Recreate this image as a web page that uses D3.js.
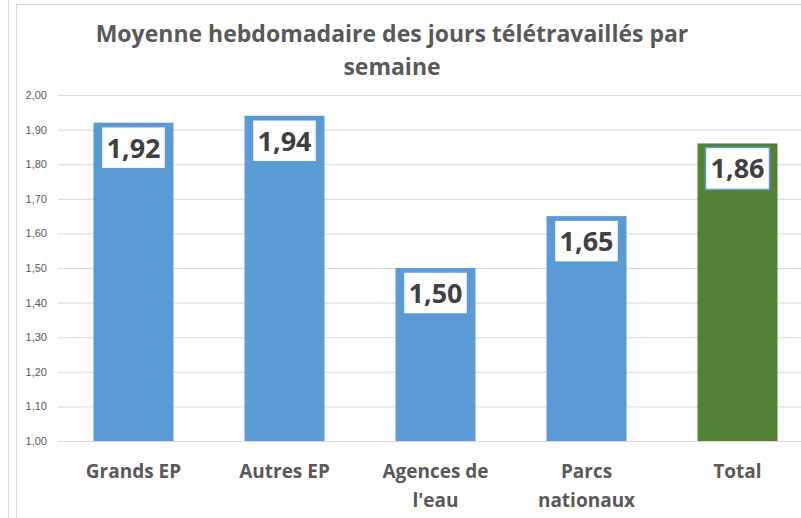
<!DOCTYPE html>
<html>
<head>
<meta charset="utf-8">
<script src="https://cdn.jsdelivr.net/npm/d3@7"></script>
<style>
  body { margin: 0; background: #fff; }
  svg { display: block; font-family: "Open Sans", "Noto Sans", sans-serif; }
</style>
</head>
<body>
<svg id="chart" width="801" height="518"></svg>
<script>
// data
const categories = [["Grands EP"], ["Autres EP"], ["Agences de", "l'eau"], ["Parcs", "nationaux"], ["Total"]];
const values = [1.92, 1.94, 1.50, 1.65, 1.86];
const labels = ["1,92", "1,94", "1,50", "1,65", "1,86"];
const yTicks = [1.0, 1.1, 1.2, 1.3, 1.4, 1.5, 1.6, 1.7, 1.8, 1.9, 2.0];
const titleLines = ["Moyenne hebdomadaire des jours télétravaillés par", "semaine"];

const svg = d3.select("#chart");
const plotLeft = 58, plotRight = 813, plotTop = 95, plotBottom = 441;

// outer frame lines
svg.append("line").attr("x1", 8.5).attr("x2", 8.5).attr("y1", 0).attr("y2", 518)
  .attr("stroke", "#d9d9d9");
svg.append("line").attr("x1", 16.5).attr("x2", 16.5).attr("y1", 4).attr("y2", 518)
  .attr("stroke", "#d9d9d9");
svg.append("line").attr("x1", 16.5).attr("x2", 801).attr("y1", 4.5).attr("y2", 4.5)
  .attr("stroke", "#d9d9d9");

const x = d3.scaleBand()
  .domain(d3.range(categories.length))
  .range([plotLeft, plotRight])
  .paddingInner(0.47)
  .paddingOuter(0.235);

const y = d3.scaleLinear()
  .domain([1.0, 2.0])
  .range([plotBottom, plotTop]);

// gridlines + tick labels
const yAxis = svg.append("g")
  .attr("transform", `translate(${plotLeft},0)`)
  .call(d3.axisLeft(y).tickValues(yTicks).tickSize(-(801 - plotLeft)).tickPadding(11)
    .tickFormat(d => d3.format(".2f")(d).replace(".", ",")));
yAxis.select(".domain").remove();
yAxis.selectAll(".tick line").attr("stroke", "#d9d9d9");
yAxis.selectAll(".tick text").attr("fill", "#595959").attr("font-size", 11);

// title
svg.append("text")
  .attr("x", 392).attr("text-anchor", "middle")
  .attr("fill", "#595959").attr("font-size", 23).attr("font-weight", "bold")
  .selectAll("tspan").data(titleLines).join("tspan")
  .attr("x", 392).attr("y", (d, i) => 42 + i * 33)
  .text(d => d);

// bars
svg.selectAll("rect.bar")
  .data(values)
  .join("rect")
  .attr("class", "bar")
  .attr("x", (d, i) => x(i))
  .attr("y", d => y(d))
  .attr("width", x.bandwidth())
  .attr("height", d => y(1.0) - y(d))
  .attr("fill", (d, i) => i === values.length - 1 ? "#548235" : "#5b9bd5");

// value label boxes
const boxW = 64, boxH = 42;
const lbl = svg.selectAll("g.lbl")
  .data(values)
  .join("g")
  .attr("class", "lbl")
  .attr("transform", (d, i) => `translate(${x(i) + x.bandwidth() / 2},${y(d) + 4})`);
lbl.append("rect")
  .attr("x", -boxW / 2).attr("y", 0)
  .attr("width", boxW).attr("height", boxH)
  .attr("fill", "#fff").attr("stroke", "#5b9bd5").attr("stroke-width", 1.5);
lbl.append("text")
  .attr("y", 31).attr("text-anchor", "middle")
  .attr("fill", "#404040").attr("font-size", 27).attr("font-weight", "bold")
  .text((d, i) => labels[i]);

// category labels
svg.selectAll("text.cat")
  .data(categories)
  .join("text")
  .attr("class", "cat")
  .attr("text-anchor", "middle")
  .attr("fill", "#595959").attr("font-size", 19).attr("font-weight", "bold")
  .selectAll("tspan").data((d, i) => d.map(s => ({ s, i })))
  .join("tspan")
  .attr("x", d => x(d.i) + x.bandwidth() / 2)
  .attr("y", (d, j) => 478 + j * 29)
  .text(d => d.s);
</script>
</body>
</html>
